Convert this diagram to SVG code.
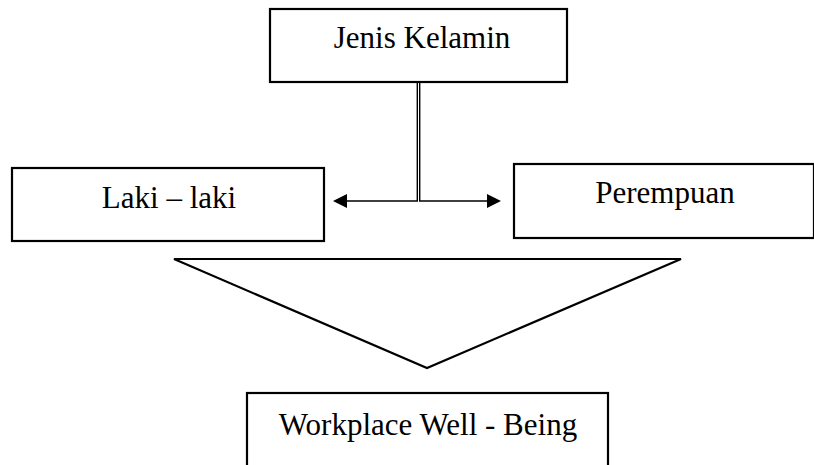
<svg xmlns="http://www.w3.org/2000/svg" width="814" height="465" viewBox="0 0 814 465">
<style>
.box{fill:#fff;stroke:#000;stroke-width:2.2}
.lbl{font-family:"Liberation Serif",serif;font-size:31px;fill:#000;text-anchor:middle}
.con{fill:none;stroke:#000;stroke-width:1.4}
.head{fill:#000}
</style>
<rect width="814" height="465" fill="#fff"/>
<g id="jenis-kelamin">
<rect class="box" x="270" y="9" width="297" height="73"/>
<text class="lbl" x="422" y="48">Jenis Kelamin</text>
</g>
<g id="laki-laki">
<rect class="box" x="12" y="168" width="312" height="73"/>
<text class="lbl" x="169" y="208">Laki – laki</text>
</g>
<g id="perempuan">
<rect class="box" x="514" y="164" width="300" height="74"/>
<text class="lbl" x="665" y="203">Perempuan</text>
</g>
<g id="funnel">
<polygon class="box" points="174,259 681,259 427,368" stroke-linejoin="miter"/>
</g>
<g id="workplace-well-being">
<rect class="box" x="247" y="393" width="361" height="80"/>
<text class="lbl" x="428" y="435">Workplace Well - Being</text>
</g>
<g id="connectors">
<path class="con" d="M417.3,82 V201 H346"/>
<path class="con" d="M419.7,82 V201 H488"/>
<polygon class="head" points="333,201 347,194 347,208"/>
<polygon class="head" points="501,201 487,194 487,208"/>
</g>
</svg>
